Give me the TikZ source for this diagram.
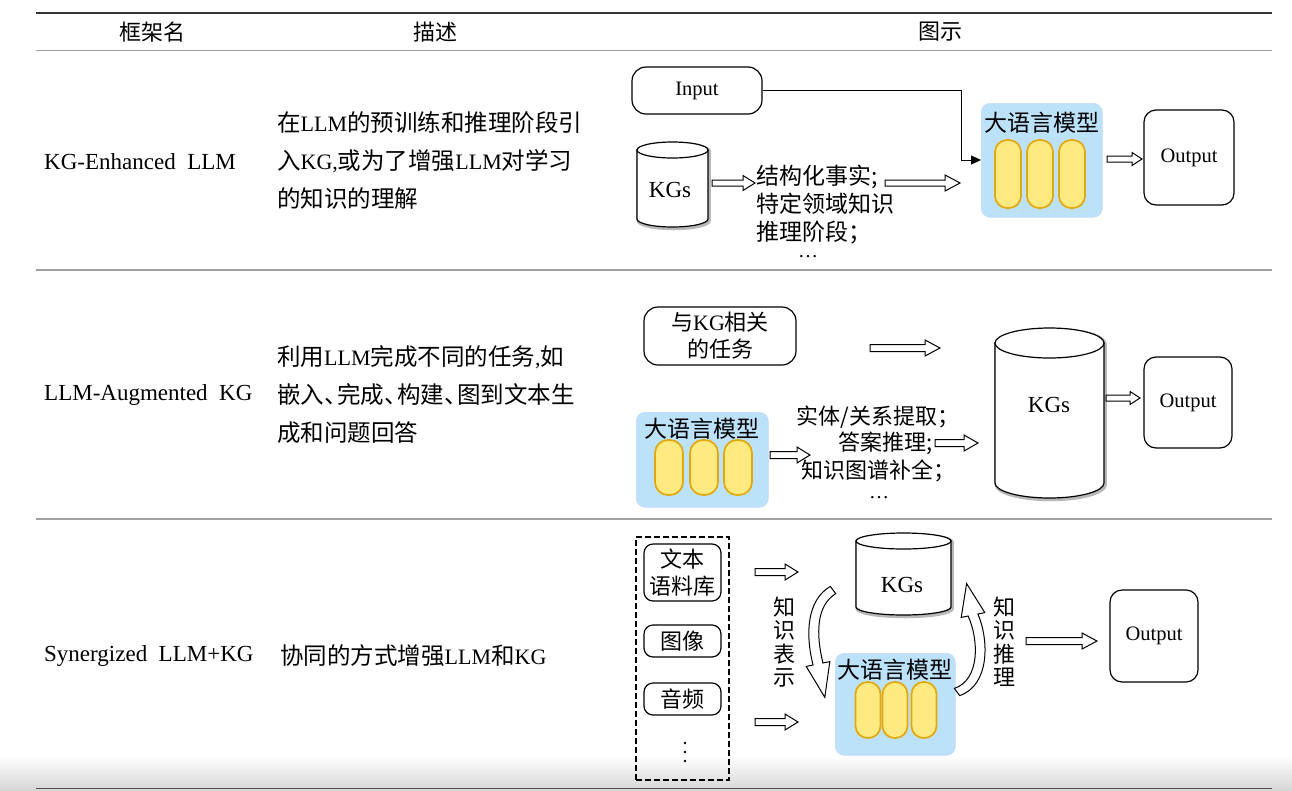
\documentclass[tikz,border=0pt]{standalone}
\usepackage{fontspec}
\setmainfont{Liberation Serif}
\newfontfamily\cjk{Noto Sans CJK SC}
\usetikzlibrary{calc,arrows.meta}
\definecolor{llmblue}{RGB}{188,226,250}
\definecolor{capfill}{RGB}{255,234,130}
\definecolor{capdraw}{RGB}{228,168,10}
\definecolor{rulegray}{RGB}{160,160,160}
\newcommand\zh[1]{{\cjk #1}}
\newcommand\lat[1]{{\rmfamily\fontsize{22}{38}\selectfont #1}}
\newcommand\dun{\makebox[0.55em][l]{、}}
% hollow block arrow: start, end, head length, shaft half width, head half width
\newcommand\harr[5]{%
  \draw[hollowarrow] ($(#1)+(0,-#4)$) -- ($(#2)+(-#3,-#4)$) -- ($(#2)+(-#3,-#5)$) -- (#2)
    -- ($(#2)+(-#3,#5)$) -- ($(#2)+(-#3,#4)$) -- ($(#1)+(0,#4)$) -- cycle;}
% cylinder: x1, x2, top ellipse centre y, bottom ellipse centre y, ry
\newcommand\kgcyl[5]{%
  \pgfmathsetmacro\cylcx{(#1+#2)/2}\pgfmathsetmacro\cylrx{(#2-#1)/2}%
  \draw[cylfuzz] (#1,#3) -- (#1,#4) arc[start angle=180,end angle=0,x radius=\cylrx,y radius=#5] -- (#2,#3);
  \draw[cylfuzz] (\cylcx,#3) ellipse[x radius=\cylrx,y radius=#5];
  \draw[cylline] (#1,#3) -- (#1,#4) arc[start angle=180,end angle=0,x radius=\cylrx,y radius=#5] -- (#2,#3) -- cycle;
  \draw[cylline] (\cylcx,#3) ellipse[x radius=\cylrx,y radius=#5];}
\tikzset{
  rule/.style={draw=rulegray,line width=1.3},
  hollowarrow/.style={draw=black,line width=1,fill=white,line join=miter},
  rbox/.style={draw,line width=1.2,rounded corners=12,fill=white,inner sep=1},
  llmbox/.style={fill=llmblue,draw=llmblue!85!blue!60,line width=0.6,rounded corners=9,inner sep=0},
  capsule/.style={draw=capdraw,fill=capfill,line width=1.7,rounded corners=12,inner sep=0},
  cylfuzz/.style={draw=black!28,line width=3.5,shift={(1.2,1.5)}},
  cylline/.style={draw,line width=1.2,fill=white},
  conn/.style={draw,line width=1,-{Triangle[length=10pt,width=9pt]}},
  hdr/.style={font=\cjk\fontsize{22}{26}\selectfont,inner sep=1},
  colone/.style={font=\fontsize{23}{28}\selectfont,inner sep=0,anchor=west},
  desc/.style={font=\cjk\fontsize{23.5}{38}\selectfont,align=left,anchor=west,inner sep=0},
  zhtxt/.style={font=\cjk\fontsize{23}{28}\selectfont,inner sep=1},
  zhsmall/.style={font=\cjk\fontsize{22}{27}\selectfont,inner sep=1},
  lattxt/.style={font=\fontsize{20.5}{24}\selectfont},
  kgtxt/.style={font=\fontsize{23}{26}\selectfont,inner sep=1},
  ttl/.style={font=\cjk\fontsize{23}{26}\selectfont,inner sep=0},
  dotsty/.style={font=\fontsize{20}{24}\selectfont,anchor=base,inner sep=0},
}
\begin{document}
\begin{tikzpicture}[x=1pt,y=-1pt]
\useasboundingbox (0,0) rectangle (1292,790);
\fill[white] (0,0) rectangle (1292,790);
\shade[top color=white,bottom color=black!16] (0,756) rectangle (1292,790);

% ---------- table rules ----------
\draw[line width=2,draw=black!80] (36,13) -- (1272,13);
\draw[rule] (36,50.5) -- (1272,50.5);
\draw[rule] (36,270) -- (1272,270);
\draw[rule] (36,519) -- (1272,519);
\draw[line width=1.6,draw=black!70] (36,788.5) -- (1272,788.5);

% ---------- header ----------
\node[hdr] (h1) at (152,32) {框架名};
\node[hdr] (h2) at (435,32) {描述};
\node[hdr] (h3) at (940,32) {图示};

% ---------- first column ----------
\node[colone] (n1) at (44,162) {KG-Enhanced~~LLM};
\node[colone] (n2) at (44,395) {LLM-Augmented~~KG};
\node[colone] (n3) at (44,656) {Synergized~~LLM+KG};

% ---------- descriptions ----------
\node[desc] (d1) at (277,161) {在\lat{LLM}的预训练和推理阶段引\\入\lat{KG,}或为了增强\lat{LLM}对学习\\的知识的理解};
\node[desc] (d2) at (277,395) {利用\lat{LLM}完成不同的任务\lat{,}如\\嵌入\dun 完成\dun 构建\dun 图到文本生\\成和问题回答};
\node[desc] (d3) at (280,656) {协同的方式增强\lat{LLM}和\lat{KG}};

% ================= Row 1 =================
\node[rbox,rounded corners=14,minimum width=130,minimum height=47,lattxt] (inp) at (697,90.5) {Input};
\kgcyl{637}{708}{150}{219}{8}
\node[kgtxt] (kg1) at (670,190) {KGs};
\coordinate (a1s) at (712,183); \coordinate (a1e) at (755,183);
\harr{a1s}{a1e}{12}{3}{7.5}
\node[zhtxt,align=left,anchor=west] (facts) at (755,204.5) {结构化事实;\\特定领域知识\\推理阶段；};
\node[dotsty] (dots1) at (808,257) {…};
\coordinate (a2s) at (885,183); \coordinate (a2e) at (960,183);
\harr{a2s}{a2e}{15}{3}{8}
\node[llmbox,minimum width=121,minimum height=114,anchor=north west] (llm1) at (981,103) {};
\node[ttl] (t1) at ($(llm1.north)+(0,20)$) {大语言模型};
\node[capsule,minimum width=26,minimum height=68] (c11) at (1008,174) {};
\node[capsule,minimum width=26,minimum height=68] (c12) at (1040,174) {};
\node[capsule,minimum width=26,minimum height=68] (c13) at (1072,174) {};
\coordinate (inbend) at (961,160);
\draw[conn] (inp.east) -| (inbend) -- (inbend -| llm1.west);
\coordinate (a3s) at (1107,159); \coordinate (a3e) at (1142,159);
\harr{a3s}{a3e}{10}{3}{6.5}
\node[rbox,minimum width=90,minimum height=95,lattxt] (out1) at (1189,157.5) {Output};

% ================= Row 2 =================
\node[rbox,rounded corners=14,minimum width=152,minimum height=58,align=center,font=\fontsize{22}{27}\selectfont] (task) at (720,336) {\zh{与}KG\zh{相关}\\\zh{的任务}};
\coordinate (b1s) at (870,348); \coordinate (b1e) at (940,348);
\harr{b1s}{b1e}{15}{3.5}{8}
\kgcyl{995}{1104}{343}{483}{15}
\node[kgtxt] (kg2) at (1049,405) {KGs};
\coordinate (b2s) at (1106,398); \coordinate (b2e) at (1140,398);
\harr{b2s}{b2e}{10}{3}{6.5}
\node[rbox,minimum width=88,minimum height=91,lattxt] (out2) at (1188,402.5) {Output};
\node[llmbox,minimum width=132,minimum height=95,anchor=north west] (llm2) at (636,412) {};
\node[ttl] (t2) at ($(llm2.north)+(0,17)$) {大语言模型};
\node[capsule,rounded corners=13,minimum width=28,minimum height=55] (c21) at (669,467.5) {};
\node[capsule,rounded corners=13,minimum width=28,minimum height=55] (c22) at (704,467.5) {};
\node[capsule,rounded corners=13,minimum width=28,minimum height=55] (c23) at (738,467.5) {};
\coordinate (b3s) at (770,455); \coordinate (b3e) at (810,455);
\harr{b3s}{b3e}{13}{3.5}{8}
\node[zhsmall] (e1) at (878,417) {实体/关系提取；};
\node[zhsmall,anchor=east] (e2) at (934,443) {答案推理;};
\node[zhsmall] (e3) at (878,471) {知识图谱补全；};
\node[dotsty] (dots2) at (879,498) {…};
\coordinate (b4s) at (935,443); \coordinate (b4e) at (978,443);
\harr{b4s}{b4e}{14}{3.5}{8}

% ================= Row 3 =================
\node[draw,line width=1.4,dash pattern=on 6pt off 3pt,minimum width=93,minimum height=243,inner sep=0] (src) at (682.5,658.5) {};
\node[rbox,rounded corners=9,minimum width=77,minimum height=57,align=center,font=\cjk\fontsize{22}{27}\selectfont] (corp) at (682.5,572.5) {文本\\语料库};
\node[rbox,rounded corners=9,minimum width=77,minimum height=32,font=\cjk\fontsize{22}{27}\selectfont] (img) at (682.5,641) {图像};
\node[rbox,rounded corners=9,minimum width=77,minimum height=32,font=\cjk\fontsize{22}{27}\selectfont] (aud) at (682.5,699) {音频};
\fill (685,743) circle[radius=1.4] (685,752) circle[radius=1.4] (685,761) circle[radius=1.4];
\coordinate (c1s) at (755,572); \coordinate (c1e) at (798,572);
\harr{c1s}{c1e}{13}{3.5}{8}
\coordinate (c2s) at (755,722); \coordinate (c2e) at (798,722);
\harr{c2s}{c2e}{13}{3.5}{8}
\kgcyl{856}{951}{541}{607}{8}
\node[kgtxt] (kg3) at (902,585) {KGs};
\node[llmbox,minimum width=120,minimum height=102,anchor=north west] (llm3) at (835,653) {};
\node[ttl] (t3) at ($(llm3.north)+(0,17)$) {大语言模型};
\node[capsule,minimum width=25,minimum height=56] (c31) at (868,710) {};
\node[capsule,minimum width=25,minimum height=56] (c32) at (895,710) {};
\node[capsule,minimum width=25,minimum height=56] (c33) at (924,710) {};
% curved hollow arrows
\draw[hollowarrow] (830.3,586.4) .. controls (807,600) and (805,634) .. (813.1,665) -- (806.2,666.4) -- (824.8,697.3) -- (829.8,661.6) -- (822.9,663) .. controls (816,634) and (816,606) .. (835.7,593.6) -- cycle;
\draw[hollowarrow] (959.7,695.6) .. controls (990,685) and (989,640) .. (977.9,614) -- (984.8,612.6) -- (966.6,583.6) -- (961.2,617.4) -- (968.1,616) .. controls (979,640) and (980,680) .. (954.3,688.4) -- cycle;
\node[align=center,font=\cjk\fontsize{22}{23.5}\selectfont,inner sep=0] (rep) at (784,642) {知\\识\\表\\示};
\node[align=center,font=\cjk\fontsize{22}{23.5}\selectfont,inner sep=0] (rea) at (1004,642) {知\\识\\推\\理};
\coordinate (c3s) at (1026,641); \coordinate (c3e) at (1097,641);
\harr{c3s}{c3e}{15}{3.5}{8}
\node[rbox,minimum width=88,minimum height=92,lattxt] (out3) at (1154,636) {Output};
\end{tikzpicture}
\end{document}
